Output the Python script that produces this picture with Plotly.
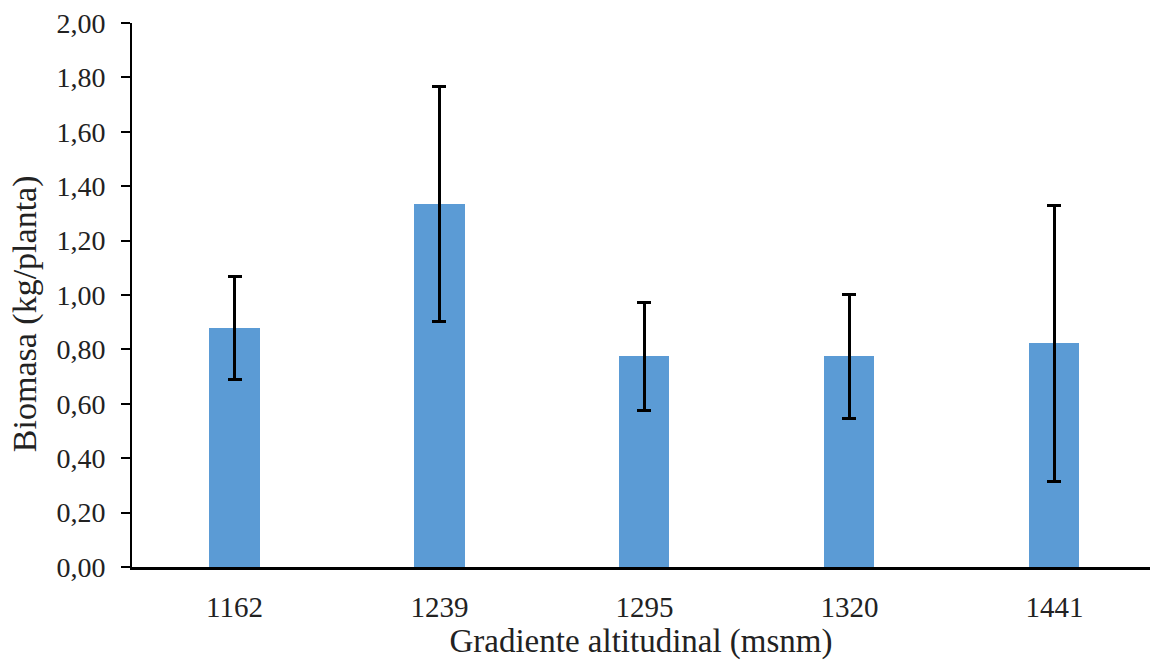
import plotly.graph_objects as go

categories = ["1162", "1239", "1295", "1320", "1441"]
biomasa = [0.88, 1.335, 0.774, 0.774, 0.823]
error = [0.189, 0.433, 0.200, 0.228, 0.507]
y_ticks = [0.0, 0.2, 0.4, 0.6, 0.8, 1.0, 1.2, 1.4, 1.6, 1.8, 2.0]

fig = go.Figure()
fig.add_trace(go.Bar(
    x=categories,
    y=biomasa,
    width=0.244,
    marker=dict(color="#5B9BD5", line=dict(width=0)),
    error_y=dict(type="data", array=error, visible=True,
                 color="black", thickness=3, width=7),
))

font_family = "Liberation Serif"
fig.update_layout(
    width=1150, height=660,
    margin=dict(l=132, r=0, t=23, b=93),
    paper_bgcolor="white", plot_bgcolor="white",
    separators=", ",
    showlegend=False,
    font=dict(family=font_family, size=28, color="#222222"),
    bargap=0,
)
fig.update_xaxes(
    type="category",
    range=[-0.5, 4.466],
    showline=True, linecolor="black", linewidth=2.5,
    ticks="", showgrid=False,
    tickfont=dict(size=29),
    ticklabelstandoff=12,
    title=dict(text="Gradiente altitudinal (msnm)", font=dict(size=33), standoff=2),
)
fig.update_yaxes(
    range=[0, 2.0],
    tickvals=y_ticks,
    tickformat=".2f",
    showline=True, linecolor="black", linewidth=2,
    ticks="outside", ticklen=9, tickwidth=1.5, tickcolor="black",
    ticklabelstandoff=10,
    showgrid=False, zeroline=False,
    tickfont=dict(size=28),
)
fig.add_annotation(
    text="Biomasa (kg/planta)",
    xref="paper", yref="paper",
    x=-0.105, y=0.465,
    xanchor="center", yanchor="middle",
    textangle=-90, showarrow=False,
    font=dict(size=34, family=font_family, color="#222222"),
)

fig.write_html("out.html")
